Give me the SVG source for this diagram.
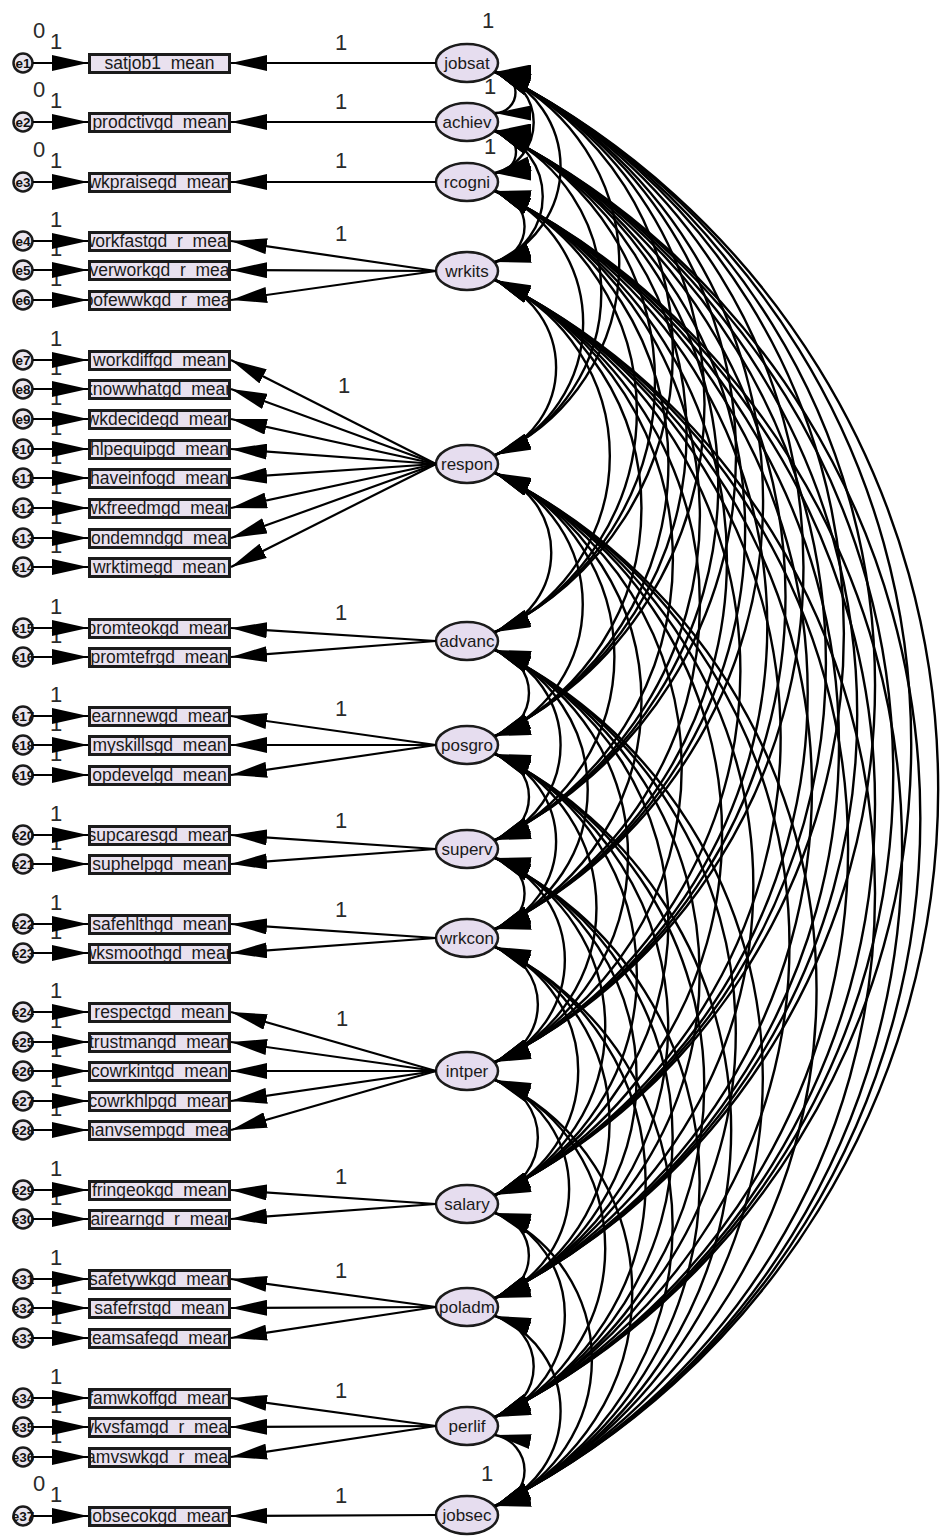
<svg xmlns="http://www.w3.org/2000/svg" width="940" height="1536" viewBox="0 0 940 1536">
<style>
.ob{fill:#e9e1ef;stroke:#1b1b1b;stroke-width:3}
.ot{font-family:"Liberation Sans",Arial,sans-serif;font-size:17.5px;text-anchor:middle;fill:#1a1a1a}
.lv{fill:#e6ddef;stroke:#1b1b1b;stroke-width:2.5}
.lt{font-family:"Liberation Sans",Arial,sans-serif;font-size:17px;text-anchor:middle;fill:#1a1a1a}
.ec{fill:#ebe6ef;stroke:#1b1b1b;stroke-width:2.5}
.et{font-family:"Liberation Sans",Arial,sans-serif;font-size:13.5px;font-weight:bold;text-anchor:middle;fill:#111}
.num{font-family:"Liberation Sans",Arial,sans-serif;font-size:22px;text-anchor:middle;fill:#2a2a2a}
#connectors path{stroke:#000;stroke-width:2.2;fill:none}
#connectors path.cv{stroke-width:2.4}
.ar{marker-end:url(#ah)}
.cv{marker-start:url(#ca);marker-end:url(#ca)}
</style>
<defs>
<marker id="ah" viewBox="0 0 36 16" refX="36" refY="8" markerWidth="36" markerHeight="16" markerUnits="userSpaceOnUse" orient="auto-start-reverse"><path d="M0,0 L36,8 L0,16 z" fill="#000"/></marker>
<marker id="ca" viewBox="0 0 36 15" refX="36" refY="7.5" markerWidth="36" markerHeight="15" markerUnits="userSpaceOnUse" orient="auto-start-reverse"><path d="M0,0 L36,7.5 L0,15 z" fill="#000"/></marker>
</defs>
<rect width="940" height="1536" fill="#fff"/>
<g id="labels">
<text class="num" x="39" y="38">0</text>
<text class="num" x="39" y="97">0</text>
<text class="num" x="39" y="157">0</text>
<text class="num" x="39" y="1491">0</text>
<text class="num" x="56" y="49">1</text>
<text class="num" x="56" y="108">1</text>
<text class="num" x="56" y="168">1</text>
<text class="num" x="56" y="227">1</text>
<text class="num" x="56" y="256">1</text>
<text class="num" x="56" y="286">1</text>
<text class="num" x="56" y="346">1</text>
<text class="num" x="56" y="375">1</text>
<text class="num" x="56" y="405">1</text>
<text class="num" x="56" y="435">1</text>
<text class="num" x="56" y="464">1</text>
<text class="num" x="56" y="494">1</text>
<text class="num" x="56" y="524">1</text>
<text class="num" x="56" y="553">1</text>
<text class="num" x="56" y="614">1</text>
<text class="num" x="56" y="643">1</text>
<text class="num" x="56" y="702">1</text>
<text class="num" x="56" y="731">1</text>
<text class="num" x="56" y="761">1</text>
<text class="num" x="56" y="821">1</text>
<text class="num" x="56" y="850">1</text>
<text class="num" x="56" y="910">1</text>
<text class="num" x="56" y="939">1</text>
<text class="num" x="56" y="998">1</text>
<text class="num" x="56" y="1028">1</text>
<text class="num" x="56" y="1057">1</text>
<text class="num" x="56" y="1087">1</text>
<text class="num" x="56" y="1116">1</text>
<text class="num" x="56" y="1176">1</text>
<text class="num" x="56" y="1205">1</text>
<text class="num" x="56" y="1265">1</text>
<text class="num" x="56" y="1294">1</text>
<text class="num" x="56" y="1324">1</text>
<text class="num" x="56" y="1384">1</text>
<text class="num" x="56" y="1413">1</text>
<text class="num" x="56" y="1443">1</text>
<text class="num" x="56" y="1502">1</text>
<text class="num" x="341" y="50">1</text>
<text class="num" x="341" y="109">1</text>
<text class="num" x="341" y="168">1</text>
<text class="num" x="341" y="241">1</text>
<text class="num" x="344" y="393">1</text>
<text class="num" x="341" y="620">1</text>
<text class="num" x="341" y="716">1</text>
<text class="num" x="341" y="828">1</text>
<text class="num" x="341" y="917">1</text>
<text class="num" x="342" y="1026">1</text>
<text class="num" x="341" y="1184">1</text>
<text class="num" x="341" y="1278">1</text>
<text class="num" x="341" y="1398">1</text>
<text class="num" x="341" y="1503">1</text>
<text class="num" x="488" y="28">1</text>
<text class="num" x="490" y="94">1</text>
<text class="num" x="490" y="154">1</text>
<text class="num" x="487" y="1481">1</text>
</g>
<g id="latents">
<g id="jobsat"><ellipse class="lv" cx="467" cy="63" rx="31" ry="19"/><text class="lt" x="467" y="69">jobsat</text></g>
<g id="achiev"><ellipse class="lv" cx="467" cy="122" rx="31" ry="19"/><text class="lt" x="467" y="128">achiev</text></g>
<g id="rcogni"><ellipse class="lv" cx="467" cy="182" rx="31" ry="19"/><text class="lt" x="467" y="188">rcogni</text></g>
<g id="wrkits"><ellipse class="lv" cx="467" cy="271" rx="31" ry="19"/><text class="lt" x="467" y="277">wrkits</text></g>
<g id="respon"><ellipse class="lv" cx="467" cy="464" rx="31" ry="19"/><text class="lt" x="467" y="470">respon</text></g>
<g id="advanc"><ellipse class="lv" cx="467" cy="641" rx="31" ry="19"/><text class="lt" x="467" y="647">advanc</text></g>
<g id="posgro"><ellipse class="lv" cx="467" cy="745" rx="31" ry="19"/><text class="lt" x="467" y="751">posgro</text></g>
<g id="superv"><ellipse class="lv" cx="467" cy="849" rx="31" ry="19"/><text class="lt" x="467" y="855">superv</text></g>
<g id="wrkcon"><ellipse class="lv" cx="467" cy="938" rx="31" ry="19"/><text class="lt" x="467" y="944">wrkcon</text></g>
<g id="intper"><ellipse class="lv" cx="467" cy="1071" rx="31" ry="19"/><text class="lt" x="467" y="1077">intper</text></g>
<g id="salary"><ellipse class="lv" cx="467" cy="1204" rx="31" ry="19"/><text class="lt" x="467" y="1210">salary</text></g>
<g id="poladm"><ellipse class="lv" cx="467" cy="1307" rx="31" ry="19"/><text class="lt" x="467" y="1313">poladm</text></g>
<g id="perlif"><ellipse class="lv" cx="467" cy="1426" rx="31" ry="19"/><text class="lt" x="467" y="1432">perlif</text></g>
<g id="jobsec"><ellipse class="lv" cx="467" cy="1515" rx="31" ry="19"/><text class="lt" x="467" y="1521">jobsec</text></g>
</g>
<g id="observed">
<g id="satjob1_mean"><svg x="88" y="53" width="143" height="21"><rect class="ob" x="1.5" y="1.5" width="140" height="18"/><text class="ot" x="71.5" y="15.5">satjob1_mean</text></svg></g>
<g id="prodctivgd_mean"><svg x="88" y="112" width="143" height="21"><rect class="ob" x="1.5" y="1.5" width="140" height="18"/><text class="ot" x="71.5" y="15.5">prodctivgd_mean</text></svg></g>
<g id="wkpraisegd_mean"><svg x="88" y="172" width="143" height="21"><rect class="ob" x="1.5" y="1.5" width="140" height="18"/><text class="ot" x="71.5" y="15.5">wkpraisegd_mean</text></svg></g>
<g id="workfastgd_r_mean"><svg x="88" y="231" width="143" height="21"><rect class="ob" x="1.5" y="1.5" width="140" height="18"/><text class="ot" x="71.5" y="15.5">workfastgd_r_mean</text></svg></g>
<g id="overworkgd_r_mean"><svg x="88" y="260" width="143" height="21"><rect class="ob" x="1.5" y="1.5" width="140" height="18"/><text class="ot" x="71.5" y="15.5">overworkgd_r_mean</text></svg></g>
<g id="toofewwkgd_r_mean"><svg x="88" y="290" width="143" height="21"><rect class="ob" x="1.5" y="1.5" width="140" height="18"/><text class="ot" x="71.5" y="15.5">toofewwkgd_r_mean</text></svg></g>
<g id="workdiffgd_mean"><svg x="88" y="350" width="143" height="21"><rect class="ob" x="1.5" y="1.5" width="140" height="18"/><text class="ot" x="71.5" y="15.5">workdiffgd_mean</text></svg></g>
<g id="knowwhatgd_mean"><svg x="88" y="379" width="143" height="21"><rect class="ob" x="1.5" y="1.5" width="140" height="18"/><text class="ot" x="71.5" y="15.5">knowwhatgd_mean</text></svg></g>
<g id="wkdecidegd_mean"><svg x="88" y="409" width="143" height="21"><rect class="ob" x="1.5" y="1.5" width="140" height="18"/><text class="ot" x="71.5" y="15.5">wkdecidegd_mean</text></svg></g>
<g id="hlpequipgd_mean"><svg x="88" y="439" width="143" height="21"><rect class="ob" x="1.5" y="1.5" width="140" height="18"/><text class="ot" x="71.5" y="15.5">hlpequipgd_mean</text></svg></g>
<g id="haveinfogd_mean"><svg x="88" y="468" width="143" height="21"><rect class="ob" x="1.5" y="1.5" width="140" height="18"/><text class="ot" x="71.5" y="15.5">haveinfogd_mean</text></svg></g>
<g id="wkfreedmgd_mean"><svg x="88" y="498" width="143" height="21"><rect class="ob" x="1.5" y="1.5" width="140" height="18"/><text class="ot" x="71.5" y="15.5">wkfreedmgd_mean</text></svg></g>
<g id="condemndgd_mean"><svg x="88" y="528" width="143" height="21"><rect class="ob" x="1.5" y="1.5" width="140" height="18"/><text class="ot" x="71.5" y="15.5">condemndgd_mean</text></svg></g>
<g id="wrktimegd_mean"><svg x="88" y="557" width="143" height="21"><rect class="ob" x="1.5" y="1.5" width="140" height="18"/><text class="ot" x="71.5" y="15.5">wrktimegd_mean</text></svg></g>
<g id="promteokgd_mean"><svg x="88" y="618" width="143" height="21"><rect class="ob" x="1.5" y="1.5" width="140" height="18"/><text class="ot" x="71.5" y="15.5">promteokgd_mean</text></svg></g>
<g id="promtefrgd_mean"><svg x="88" y="647" width="143" height="21"><rect class="ob" x="1.5" y="1.5" width="140" height="18"/><text class="ot" x="71.5" y="15.5">promtefrgd_mean</text></svg></g>
<g id="learnnewgd_mean"><svg x="88" y="706" width="143" height="21"><rect class="ob" x="1.5" y="1.5" width="140" height="18"/><text class="ot" x="71.5" y="15.5">learnnewgd_mean</text></svg></g>
<g id="myskillsgd_mean"><svg x="88" y="735" width="143" height="21"><rect class="ob" x="1.5" y="1.5" width="140" height="18"/><text class="ot" x="71.5" y="15.5">myskillsgd_mean</text></svg></g>
<g id="opdevelgd_mean"><svg x="88" y="765" width="143" height="21"><rect class="ob" x="1.5" y="1.5" width="140" height="18"/><text class="ot" x="71.5" y="15.5">opdevelgd_mean</text></svg></g>
<g id="supcaresgd_mean"><svg x="88" y="825" width="143" height="21"><rect class="ob" x="1.5" y="1.5" width="140" height="18"/><text class="ot" x="71.5" y="15.5">supcaresgd_mean</text></svg></g>
<g id="suphelpgd_mean"><svg x="88" y="854" width="143" height="21"><rect class="ob" x="1.5" y="1.5" width="140" height="18"/><text class="ot" x="71.5" y="15.5">suphelpgd_mean</text></svg></g>
<g id="safehlthgd_mean"><svg x="88" y="914" width="143" height="21"><rect class="ob" x="1.5" y="1.5" width="140" height="18"/><text class="ot" x="71.5" y="15.5">safehlthgd_mean</text></svg></g>
<g id="wksmoothgd_mean"><svg x="88" y="943" width="143" height="21"><rect class="ob" x="1.5" y="1.5" width="140" height="18"/><text class="ot" x="71.5" y="15.5">wksmoothgd_mean</text></svg></g>
<g id="respectgd_mean"><svg x="88" y="1002" width="143" height="21"><rect class="ob" x="1.5" y="1.5" width="140" height="18"/><text class="ot" x="71.5" y="15.5">respectgd_mean</text></svg></g>
<g id="trustmangd_mean"><svg x="88" y="1032" width="143" height="21"><rect class="ob" x="1.5" y="1.5" width="140" height="18"/><text class="ot" x="71.5" y="15.5">trustmangd_mean</text></svg></g>
<g id="cowrkintgd_mean"><svg x="88" y="1061" width="143" height="21"><rect class="ob" x="1.5" y="1.5" width="140" height="18"/><text class="ot" x="71.5" y="15.5">cowrkintgd_mean</text></svg></g>
<g id="cowrkhlpgd_mean"><svg x="88" y="1091" width="143" height="21"><rect class="ob" x="1.5" y="1.5" width="140" height="18"/><text class="ot" x="71.5" y="15.5">cowrkhlpgd_mean</text></svg></g>
<g id="manvsempgd_mean"><svg x="88" y="1120" width="143" height="21"><rect class="ob" x="1.5" y="1.5" width="140" height="18"/><text class="ot" x="71.5" y="15.5">manvsempgd_mean</text></svg></g>
<g id="fringeokgd_mean"><svg x="88" y="1180" width="143" height="21"><rect class="ob" x="1.5" y="1.5" width="140" height="18"/><text class="ot" x="71.5" y="15.5">fringeokgd_mean</text></svg></g>
<g id="fairearngd_r_mean"><svg x="88" y="1209" width="143" height="21"><rect class="ob" x="1.5" y="1.5" width="140" height="18"/><text class="ot" x="71.5" y="15.5">fairearngd_r_mean</text></svg></g>
<g id="safetywkgd_mean"><svg x="88" y="1269" width="143" height="21"><rect class="ob" x="1.5" y="1.5" width="140" height="18"/><text class="ot" x="71.5" y="15.5">safetywkgd_mean</text></svg></g>
<g id="safefrstgd_mean"><svg x="88" y="1298" width="143" height="21"><rect class="ob" x="1.5" y="1.5" width="140" height="18"/><text class="ot" x="71.5" y="15.5">safefrstgd_mean</text></svg></g>
<g id="teamsafegd_mean"><svg x="88" y="1328" width="143" height="21"><rect class="ob" x="1.5" y="1.5" width="140" height="18"/><text class="ot" x="71.5" y="15.5">teamsafegd_mean</text></svg></g>
<g id="famwkoffgd_mean"><svg x="88" y="1388" width="143" height="21"><rect class="ob" x="1.5" y="1.5" width="140" height="18"/><text class="ot" x="71.5" y="15.5">famwkoffgd_mean</text></svg></g>
<g id="wkvsfamgd_r_mean"><svg x="88" y="1417" width="143" height="21"><rect class="ob" x="1.5" y="1.5" width="140" height="18"/><text class="ot" x="71.5" y="15.5">wkvsfamgd_r_mean</text></svg></g>
<g id="famvswkgd_r_mean"><svg x="88" y="1447" width="143" height="21"><rect class="ob" x="1.5" y="1.5" width="140" height="18"/><text class="ot" x="71.5" y="15.5">famvswkgd_r_mean</text></svg></g>
<g id="jobsecokgd_mean"><svg x="88" y="1506" width="143" height="21"><rect class="ob" x="1.5" y="1.5" width="140" height="18"/><text class="ot" x="71.5" y="15.5">jobsecokgd_mean</text></svg></g>
</g>
<g id="errors">
<g id="e1"><svg x="12" y="52" width="22" height="22"><circle class="ec" cx="11" cy="11" r="9.5"/><text class="et" x="11" y="16">e1</text></svg></g>
<g id="e2"><svg x="12" y="111" width="22" height="22"><circle class="ec" cx="11" cy="11" r="9.5"/><text class="et" x="11" y="16">e2</text></svg></g>
<g id="e3"><svg x="12" y="171" width="22" height="22"><circle class="ec" cx="11" cy="11" r="9.5"/><text class="et" x="11" y="16">e3</text></svg></g>
<g id="e4"><svg x="12" y="230" width="22" height="22"><circle class="ec" cx="11" cy="11" r="9.5"/><text class="et" x="11" y="16">e4</text></svg></g>
<g id="e5"><svg x="12" y="259" width="22" height="22"><circle class="ec" cx="11" cy="11" r="9.5"/><text class="et" x="11" y="16">e5</text></svg></g>
<g id="e6"><svg x="12" y="289" width="22" height="22"><circle class="ec" cx="11" cy="11" r="9.5"/><text class="et" x="11" y="16">e6</text></svg></g>
<g id="e7"><svg x="12" y="349" width="22" height="22"><circle class="ec" cx="11" cy="11" r="9.5"/><text class="et" x="11" y="16">e7</text></svg></g>
<g id="e8"><svg x="12" y="378" width="22" height="22"><circle class="ec" cx="11" cy="11" r="9.5"/><text class="et" x="11" y="16">e8</text></svg></g>
<g id="e9"><svg x="12" y="408" width="22" height="22"><circle class="ec" cx="11" cy="11" r="9.5"/><text class="et" x="11" y="16">e9</text></svg></g>
<g id="e10"><svg x="12" y="438" width="22" height="22"><circle class="ec" cx="11" cy="11" r="9.5"/><text class="et" x="11" y="16">e10</text></svg></g>
<g id="e11"><svg x="12" y="467" width="22" height="22"><circle class="ec" cx="11" cy="11" r="9.5"/><text class="et" x="11" y="16">e11</text></svg></g>
<g id="e12"><svg x="12" y="497" width="22" height="22"><circle class="ec" cx="11" cy="11" r="9.5"/><text class="et" x="11" y="16">e12</text></svg></g>
<g id="e13"><svg x="12" y="527" width="22" height="22"><circle class="ec" cx="11" cy="11" r="9.5"/><text class="et" x="11" y="16">e13</text></svg></g>
<g id="e14"><svg x="12" y="556" width="22" height="22"><circle class="ec" cx="11" cy="11" r="9.5"/><text class="et" x="11" y="16">e14</text></svg></g>
<g id="e15"><svg x="12" y="617" width="22" height="22"><circle class="ec" cx="11" cy="11" r="9.5"/><text class="et" x="11" y="16">e15</text></svg></g>
<g id="e16"><svg x="12" y="646" width="22" height="22"><circle class="ec" cx="11" cy="11" r="9.5"/><text class="et" x="11" y="16">e16</text></svg></g>
<g id="e17"><svg x="12" y="705" width="22" height="22"><circle class="ec" cx="11" cy="11" r="9.5"/><text class="et" x="11" y="16">e17</text></svg></g>
<g id="e18"><svg x="12" y="734" width="22" height="22"><circle class="ec" cx="11" cy="11" r="9.5"/><text class="et" x="11" y="16">e18</text></svg></g>
<g id="e19"><svg x="12" y="764" width="22" height="22"><circle class="ec" cx="11" cy="11" r="9.5"/><text class="et" x="11" y="16">e19</text></svg></g>
<g id="e20"><svg x="12" y="824" width="22" height="22"><circle class="ec" cx="11" cy="11" r="9.5"/><text class="et" x="11" y="16">e20</text></svg></g>
<g id="e21"><svg x="12" y="853" width="22" height="22"><circle class="ec" cx="11" cy="11" r="9.5"/><text class="et" x="11" y="16">e21</text></svg></g>
<g id="e22"><svg x="12" y="913" width="22" height="22"><circle class="ec" cx="11" cy="11" r="9.5"/><text class="et" x="11" y="16">e22</text></svg></g>
<g id="e23"><svg x="12" y="942" width="22" height="22"><circle class="ec" cx="11" cy="11" r="9.5"/><text class="et" x="11" y="16">e23</text></svg></g>
<g id="e24"><svg x="12" y="1001" width="22" height="22"><circle class="ec" cx="11" cy="11" r="9.5"/><text class="et" x="11" y="16">e24</text></svg></g>
<g id="e25"><svg x="12" y="1031" width="22" height="22"><circle class="ec" cx="11" cy="11" r="9.5"/><text class="et" x="11" y="16">e25</text></svg></g>
<g id="e26"><svg x="12" y="1060" width="22" height="22"><circle class="ec" cx="11" cy="11" r="9.5"/><text class="et" x="11" y="16">e26</text></svg></g>
<g id="e27"><svg x="12" y="1090" width="22" height="22"><circle class="ec" cx="11" cy="11" r="9.5"/><text class="et" x="11" y="16">e27</text></svg></g>
<g id="e28"><svg x="12" y="1119" width="22" height="22"><circle class="ec" cx="11" cy="11" r="9.5"/><text class="et" x="11" y="16">e28</text></svg></g>
<g id="e29"><svg x="12" y="1179" width="22" height="22"><circle class="ec" cx="11" cy="11" r="9.5"/><text class="et" x="11" y="16">e29</text></svg></g>
<g id="e30"><svg x="12" y="1208" width="22" height="22"><circle class="ec" cx="11" cy="11" r="9.5"/><text class="et" x="11" y="16">e30</text></svg></g>
<g id="e31"><svg x="12" y="1268" width="22" height="22"><circle class="ec" cx="11" cy="11" r="9.5"/><text class="et" x="11" y="16">e31</text></svg></g>
<g id="e32"><svg x="12" y="1297" width="22" height="22"><circle class="ec" cx="11" cy="11" r="9.5"/><text class="et" x="11" y="16">e32</text></svg></g>
<g id="e33"><svg x="12" y="1327" width="22" height="22"><circle class="ec" cx="11" cy="11" r="9.5"/><text class="et" x="11" y="16">e33</text></svg></g>
<g id="e34"><svg x="12" y="1387" width="22" height="22"><circle class="ec" cx="11" cy="11" r="9.5"/><text class="et" x="11" y="16">e34</text></svg></g>
<g id="e35"><svg x="12" y="1416" width="22" height="22"><circle class="ec" cx="11" cy="11" r="9.5"/><text class="et" x="11" y="16">e35</text></svg></g>
<g id="e36"><svg x="12" y="1446" width="22" height="22"><circle class="ec" cx="11" cy="11" r="9.5"/><text class="et" x="11" y="16">e36</text></svg></g>
<g id="e37"><svg x="12" y="1505" width="22" height="22"><circle class="ec" cx="11" cy="11" r="9.5"/><text class="et" x="11" y="16">e37</text></svg></g>
</g>
<g id="connectors">
<path class="ar" d="M33,63H88"/><path class="ar" d="M33,122H88"/><path class="ar" d="M33,182H88"/><path class="ar" d="M33,241H88"/><path class="ar" d="M33,270H88"/><path class="ar" d="M33,300H88"/><path class="ar" d="M33,360H88"/><path class="ar" d="M33,389H88"/><path class="ar" d="M33,419H88"/><path class="ar" d="M33,449H88"/><path class="ar" d="M33,478H88"/><path class="ar" d="M33,508H88"/><path class="ar" d="M33,538H88"/><path class="ar" d="M33,567H88"/><path class="ar" d="M33,628H88"/><path class="ar" d="M33,657H88"/><path class="ar" d="M33,716H88"/><path class="ar" d="M33,745H88"/><path class="ar" d="M33,775H88"/><path class="ar" d="M33,835H88"/><path class="ar" d="M33,864H88"/><path class="ar" d="M33,924H88"/><path class="ar" d="M33,953H88"/><path class="ar" d="M33,1012H88"/><path class="ar" d="M33,1042H88"/><path class="ar" d="M33,1071H88"/><path class="ar" d="M33,1101H88"/><path class="ar" d="M33,1130H88"/><path class="ar" d="M33,1190H88"/><path class="ar" d="M33,1219H88"/><path class="ar" d="M33,1279H88"/><path class="ar" d="M33,1308H88"/><path class="ar" d="M33,1338H88"/><path class="ar" d="M33,1398H88"/><path class="ar" d="M33,1427H88"/><path class="ar" d="M33,1457H88"/><path class="ar" d="M33,1516H88"/>
<path class="ar" d="M436,63L231,63"/><path class="ar" d="M436,122L231,122"/><path class="ar" d="M436,182L231,182"/>
<path class="ar" d="M436,271L231,241"/><path class="ar" d="M436,271L231,270"/><path class="ar" d="M436,271L231,300"/>
<path class="ar" d="M436,464L231,360"/><path class="ar" d="M436,464L231,389"/><path class="ar" d="M436,464L231,419"/><path class="ar" d="M436,464L231,449"/><path class="ar" d="M436,464L231,478"/><path class="ar" d="M436,464L231,508"/><path class="ar" d="M436,464L231,538"/><path class="ar" d="M436,464L231,567"/>
<path class="ar" d="M436,641L231,628"/><path class="ar" d="M436,641L231,657"/>
<path class="ar" d="M436,745L231,716"/><path class="ar" d="M436,745L231,745"/><path class="ar" d="M436,745L231,775"/>
<path class="ar" d="M436,849L231,835"/><path class="ar" d="M436,849L231,864"/>
<path class="ar" d="M436,938L231,924"/><path class="ar" d="M436,938L231,953"/>
<path class="ar" d="M436,1071L231,1012"/><path class="ar" d="M436,1071L231,1042"/><path class="ar" d="M436,1071L231,1071"/><path class="ar" d="M436,1071L231,1101"/><path class="ar" d="M436,1071L231,1130"/>
<path class="ar" d="M436,1204L231,1190"/><path class="ar" d="M436,1204L231,1219"/>
<path class="ar" d="M436,1307L231,1279"/><path class="ar" d="M436,1307L231,1308"/><path class="ar" d="M436,1307L231,1338"/>
<path class="ar" d="M436,1426L231,1398"/><path class="ar" d="M436,1426L231,1427"/><path class="ar" d="M436,1426L231,1457"/>
<path class="ar" d="M436,1515L231,1516"/>
<path class="cv" d="M495,72A20.5,20.5 0 0 1 495,113"/>
<path class="cv" d="M495,72A52.3,52.3 0 0 1 495,173"/>
<path class="cv" d="M495,72A101.6,101.6 0 0 1 495,262"/>
<path class="cv" d="M495,72A209.7,209.7 0 0 1 495,455"/>
<path class="cv" d="M495,72A309.3,309.3 0 0 1 495,632"/>
<path class="cv" d="M495,72A367.8,367.8 0 0 1 495,736"/>
<path class="cv" d="M495,72A426.4,426.4 0 0 1 495,840"/>
<path class="cv" d="M495,72A476.5,476.5 0 0 1 495,929"/>
<path class="cv" d="M495,72A551.4,551.4 0 0 1 495,1062"/>
<path class="cv" d="M495,72A626.3,626.3 0 0 1 495,1195"/>
<path class="cv" d="M495,72A684.4,684.4 0 0 1 495,1298"/>
<path class="cv" d="M495,72A751.4,751.4 0 0 1 495,1417"/>
<path class="cv" d="M495,72A801.6,801.6 0 0 1 495,1506"/>
<path class="cv" d="M495,131A21,21 0 0 1 495,173"/>
<path class="cv" d="M495,131A68.8,68.8 0 0 1 495,262"/>
<path class="cv" d="M495,131A176.6,176.6 0 0 1 495,455"/>
<path class="cv" d="M495,131A276.1,276.1 0 0 1 495,632"/>
<path class="cv" d="M495,131A334.6,334.6 0 0 1 495,736"/>
<path class="cv" d="M495,131A393.1,393.1 0 0 1 495,840"/>
<path class="cv" d="M495,131A443.3,443.3 0 0 1 495,929"/>
<path class="cv" d="M495,131A518.2,518.2 0 0 1 495,1062"/>
<path class="cv" d="M495,131A593.1,593.1 0 0 1 495,1195"/>
<path class="cv" d="M495,131A651.1,651.1 0 0 1 495,1298"/>
<path class="cv" d="M495,131A718.2,718.2 0 0 1 495,1417"/>
<path class="cv" d="M495,131A768.3,768.3 0 0 1 495,1506"/>
<path class="cv" d="M495,191A36.1,36.1 0 0 1 495,262"/>
<path class="cv" d="M495,191A142.9,142.9 0 0 1 495,455"/>
<path class="cv" d="M495,191A242.3,242.3 0 0 1 495,632"/>
<path class="cv" d="M495,191A300.8,300.8 0 0 1 495,736"/>
<path class="cv" d="M495,191A359.4,359.4 0 0 1 495,840"/>
<path class="cv" d="M495,191A409.5,409.5 0 0 1 495,929"/>
<path class="cv" d="M495,191A484.4,484.4 0 0 1 495,1062"/>
<path class="cv" d="M495,191A559.3,559.3 0 0 1 495,1195"/>
<path class="cv" d="M495,191A617.3,617.3 0 0 1 495,1298"/>
<path class="cv" d="M495,191A684.4,684.4 0 0 1 495,1417"/>
<path class="cv" d="M495,191A734.5,734.5 0 0 1 495,1506"/>
<path class="cv" d="M495,280A93.2,93.2 0 0 1 495,455"/>
<path class="cv" d="M495,280A192.3,192.3 0 0 1 495,632"/>
<path class="cv" d="M495,280A250.7,250.7 0 0 1 495,736"/>
<path class="cv" d="M495,280A309.3,309.3 0 0 1 495,840"/>
<path class="cv" d="M495,280A359.4,359.4 0 0 1 495,929"/>
<path class="cv" d="M495,280A434.2,434.2 0 0 1 495,1062"/>
<path class="cv" d="M495,280A509.2,509.2 0 0 1 495,1195"/>
<path class="cv" d="M495,280A567.2,567.2 0 0 1 495,1298"/>
<path class="cv" d="M495,280A634.2,634.2 0 0 1 495,1417"/>
<path class="cv" d="M495,280A684.4,684.4 0 0 1 495,1506"/>
<path class="cv" d="M495,473A84.3,84.3 0 0 1 495,632"/>
<path class="cv" d="M495,473A142.4,142.4 0 0 1 495,736"/>
<path class="cv" d="M495,473A200.7,200.7 0 0 1 495,840"/>
<path class="cv" d="M495,473A250.7,250.7 0 0 1 495,929"/>
<path class="cv" d="M495,473A325.6,325.6 0 0 1 495,1062"/>
<path class="cv" d="M495,473A400.5,400.5 0 0 1 495,1195"/>
<path class="cv" d="M495,473A458.5,458.5 0 0 1 495,1298"/>
<path class="cv" d="M495,473A525.5,525.5 0 0 1 495,1417"/>
<path class="cv" d="M495,473A575.6,575.6 0 0 1 495,1506"/>
<path class="cv" d="M495,650A44.2,44.2 0 0 1 495,736"/>
<path class="cv" d="M495,650A101.6,101.6 0 0 1 495,840"/>
<path class="cv" d="M495,650A151.3,151.3 0 0 1 495,929"/>
<path class="cv" d="M495,650A226,226 0 0 1 495,1062"/>
<path class="cv" d="M495,650A300.8,300.8 0 0 1 495,1195"/>
<path class="cv" d="M495,650A358.8,358.8 0 0 1 495,1298"/>
<path class="cv" d="M495,650A425.8,425.8 0 0 1 495,1417"/>
<path class="cv" d="M495,650A475.9,475.9 0 0 1 495,1506"/>
<path class="cv" d="M495,754A44.2,44.2 0 0 1 495,840"/>
<path class="cv" d="M495,754A93.2,93.2 0 0 1 495,929"/>
<path class="cv" d="M495,754A167.6,167.6 0 0 1 495,1062"/>
<path class="cv" d="M495,754A242.3,242.3 0 0 1 495,1195"/>
<path class="cv" d="M495,754A300.2,300.2 0 0 1 495,1298"/>
<path class="cv" d="M495,754A367.2,367.2 0 0 1 495,1417"/>
<path class="cv" d="M495,754A417.4,417.4 0 0 1 495,1506"/>
<path class="cv" d="M495,858A36.1,36.1 0 0 1 495,929"/>
<path class="cv" d="M495,858A109.4,109.4 0 0 1 495,1062"/>
<path class="cv" d="M495,858A183.9,183.9 0 0 1 495,1195"/>
<path class="cv" d="M495,858A241.7,241.7 0 0 1 495,1298"/>
<path class="cv" d="M495,858A308.7,308.7 0 0 1 495,1417"/>
<path class="cv" d="M495,858A358.8,358.8 0 0 1 495,1506"/>
<path class="cv" d="M495,947A60,60 0 0 1 495,1062"/>
<path class="cv" d="M495,947A134,134 0 0 1 495,1195"/>
<path class="cv" d="M495,947A191.7,191.7 0 0 1 495,1298"/>
<path class="cv" d="M495,947A258.6,258.6 0 0 1 495,1417"/>
<path class="cv" d="M495,947A308.7,308.7 0 0 1 495,1506"/>
<path class="cv" d="M495,1080A60,60 0 0 1 495,1195"/>
<path class="cv" d="M495,1080A117.2,117.2 0 0 1 495,1298"/>
<path class="cv" d="M495,1080A183.9,183.9 0 0 1 495,1417"/>
<path class="cv" d="M495,1080A233.9,233.9 0 0 1 495,1506"/>
<path class="cv" d="M495,1213A43.6,43.6 0 0 1 495,1298"/>
<path class="cv" d="M495,1213A109.4,109.4 0 0 1 495,1417"/>
<path class="cv" d="M495,1213A159.2,159.2 0 0 1 495,1506"/>
<path class="cv" d="M495,1316A52.3,52.3 0 0 1 495,1417"/>
<path class="cv" d="M495,1316A101.6,101.6 0 0 1 495,1506"/>
<path class="cv" d="M495,1435A36.1,36.1 0 0 1 495,1506"/>
</g>
</svg>
